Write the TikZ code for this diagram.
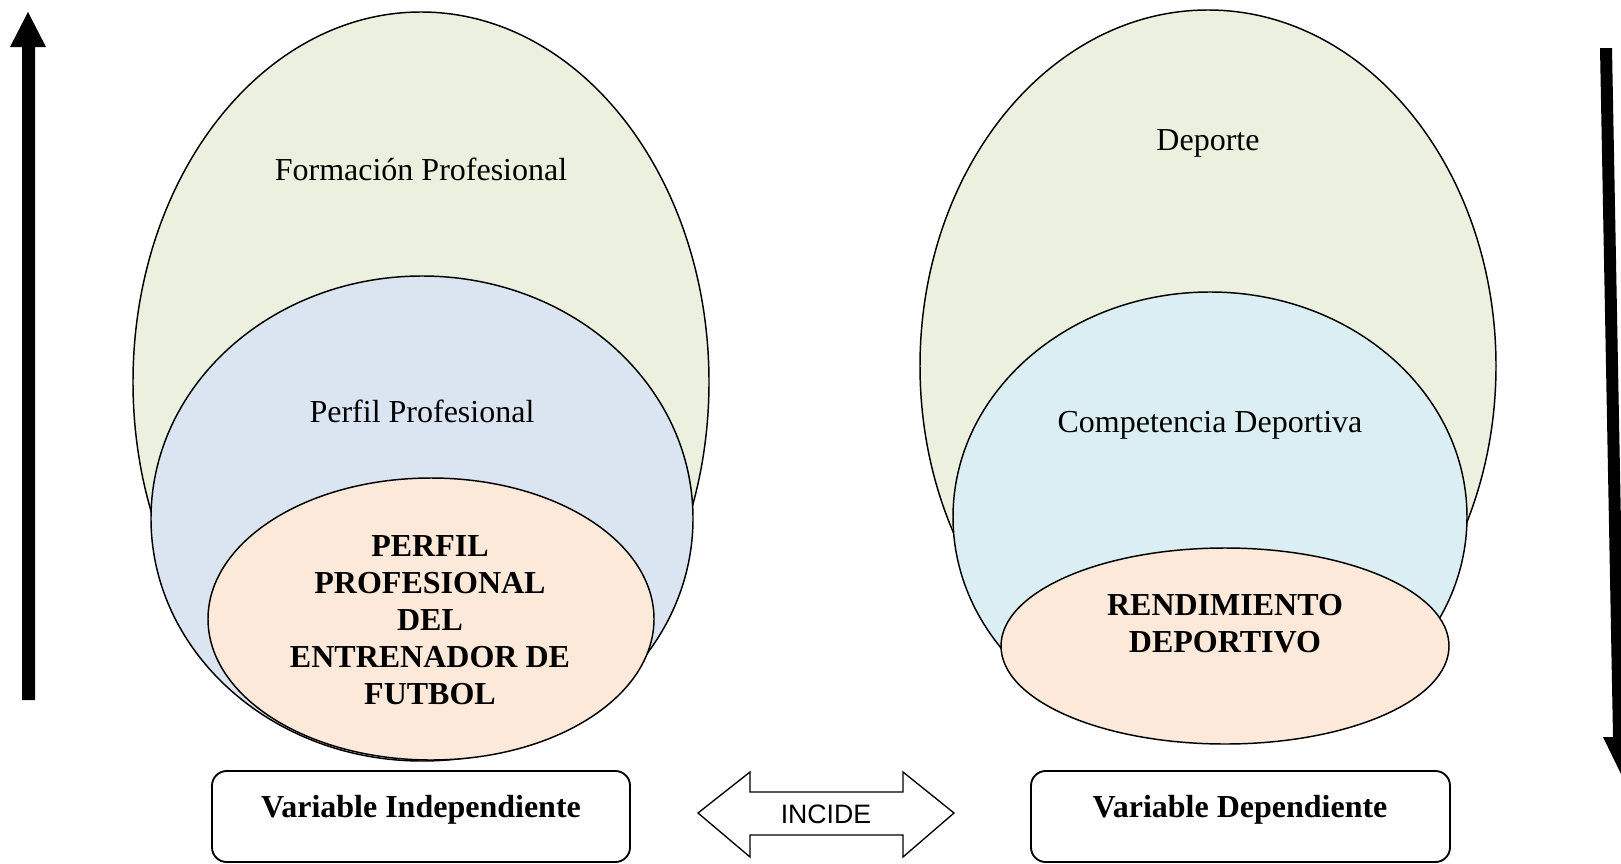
\documentclass[tikz,border=0pt]{standalone}
\usepackage{fontspec}
\setmainfont{Liberation Serif}
\newfontfamily\incidefont{Liberation Sans}

\definecolor{verde}{RGB}{235,241,222}
\definecolor{azul}{RGB}{219,229,241}
\definecolor{celeste}{RGB}{218,238,243}
\definecolor{naranja}{RGB}{253,233,217}

\tikzset{
  capa/.style={draw=black, line width=1.1pt},
  textocapa/.style={font=\fontsize{24}{27.75}\selectfont, align=center},
  textobold/.style={font=\fontsize{24}{27.75}\selectfont\bfseries, align=center},
  caja/.style={draw=black, line width=1.4pt, rounded corners=11pt},
}

\begin{document}
\begin{tikzpicture}[x=0.75pt,y=0.75pt,yscale=-1]
\useasboundingbox (0,0) rectangle (1621,864);

%Flecha izquierda
\fill (22,700) -- (22,47) -- (10,47) -- (28,12) -- (46,47) -- (35,47) -- (35,700) -- cycle;
%Flecha derecha
\fill (1600,48) -- (1612,48) -- (1625,737) -- (1637,737) -- (1621,774) -- (1603,737) -- (1613,737) -- cycle;

%Elipses izquierda
\draw[capa, fill=verde] (421,382) ellipse [x radius=288, y radius=370];
\draw[capa, fill=azul] (422,518.5) ellipse [x radius=271, y radius=242.5];
\draw[capa, fill=naranja] (431,619) ellipse [x radius=223, y radius=141];

%Elipses derecha
\draw[capa, fill=verde] (1208,366) ellipse [x radius=288, y radius=356];
\draw[capa, fill=celeste] (1210,517) ellipse [x radius=257, y radius=225];
\draw[capa, fill=naranja] (1225,646) ellipse [x radius=224, y radius=98];

% Text Node
\node[textocapa] (formacion) at (421,169) {Formación Profesional};
\node[textocapa] (perfil) at (422,411) {Perfil Profesional};
\node[textobold] (entrenador) at (430,620) {PERFIL\\PROFESIONAL\\DEL\\ENTRENADOR DE\\FUTBOL};
\node[textocapa] (deporte) at (1208,143) {Deporte};
\node[textocapa] (competencia) at (1210,425) {Competencia Deportiva};
\node[textobold] (rendimiento) at (1225,624) {RENDIMIENTO\\DEPORTIVO};

%Cajas
\draw[caja] (212,771) rectangle (630,862);
\node[textobold] (varindep) at (421,810) {Variable Independiente};
\draw[caja] (1031,771) rectangle (1450,862);
\node[textobold] (vardep) at (1240,810) {Variable Dependiente};

%Flecha doble
\draw[line width=1pt, fill=white] (698,813) -- (750,772) -- (750,792) -- (903,792) -- (903,772) -- (954,813) -- (903,857) -- (903,835) -- (750,835) -- (750,857) -- cycle;
\node[font=\incidefont\fontsize{20}{24}\selectfont] (incide) at (826,814) {INCIDE};

\end{tikzpicture}
\end{document}
